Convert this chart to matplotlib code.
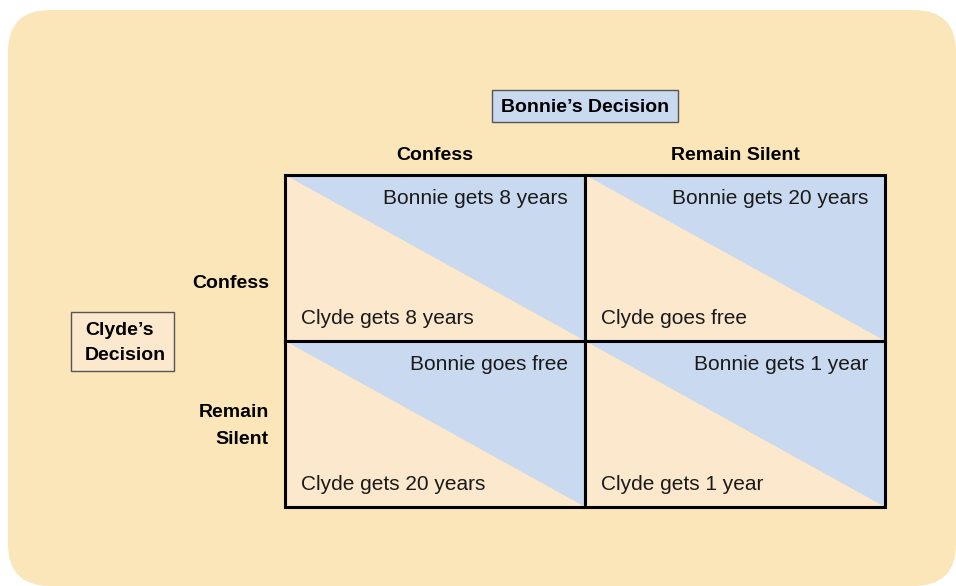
import matplotlib.pyplot as plt
from matplotlib.patches import Polygon, Rectangle, FancyBboxPatch

# payoff matrix text
col_labels = ["Confess", "Remain Silent"]
row_labels = ["Confess", "Remain\nSilent"]
bonnie_outcomes = [["Bonnie gets 8 years", "Bonnie gets 20 years"],
                   ["Bonnie goes free", "Bonnie gets 1 year"]]
clyde_outcomes = [["Clyde gets 8 years", "Clyde goes free"],
                  ["Clyde gets 20 years", "Clyde gets 1 year"]]
col_title = "Bonnie\u2019s Decision"
row_title = "Clyde\u2019s\nDecision"

bg = "#fae6b9"
blue = "#c9d9f0"
peach = "#fce8cc"
font = "Liberation Sans"

fig = plt.figure(figsize=(9.56, 5.86), dpi=100)
ax = fig.add_axes([0, 0, 1, 1])
ax.set_xlim(0, 956)
ax.set_ylim(586, 0)
ax.axis("off")

# rounded background
ax.add_patch(FancyBboxPatch((8 + 42, 10 + 42), 948 - 84, 576 - 84,
                            boxstyle="round,pad=42", fc=bg, ec="none"))

x0, y0 = 285, 175
cw, ch = 300, 166

for i in range(2):
    for j in range(2):
        left = x0 + j * cw
        top = y0 + i * ch
        right, bottom = left + cw, top + ch
        ax.add_patch(Polygon([(left, top), (right, top), (right, bottom)],
                             closed=True, fc=blue, ec="none"))
        ax.add_patch(Polygon([(left, top), (left, bottom), (right, bottom)],
                             closed=True, fc=peach, ec="none"))
        ax.add_patch(Rectangle((left, top), cw, ch, fill=False, ec="black", lw=2.2))
        ax.text(right - 17, top + 24, bonnie_outcomes[i][j], ha="right", va="center",
                fontsize=15, family=font, color="#1a1a1a")
        ax.text(left + 16, bottom - 22, clyde_outcomes[i][j], ha="left", va="center",
                fontsize=15, family=font, color="#1a1a1a")

for j, lab in enumerate(col_labels):
    ax.text(x0 + j * cw + cw / 2, 155, lab, ha="center", va="center",
            fontsize=14, fontweight="bold", family=font)

for i, lab in enumerate(row_labels):
    ax.text(269, y0 + i * ch + (85 if "\n" in lab else 108), lab, ha="right",
            va="center", fontsize=14, fontweight="bold", family=font, linespacing=1.7)

# title boxes
ax.add_patch(Rectangle((492, 90), 186, 32, fc=blue, ec="#555555", lw=1))
ax.text(585, 108, col_title, ha="center", va="center", fontsize=14,
        fontweight="bold", family=font)

ax.add_patch(Rectangle((71, 312), 103, 59, fc=peach, ec="#555555", lw=1))
ax.text(85, 343, row_title, ha="left", va="center", fontsize=14,
        fontweight="bold", family=font, linespacing=1.65)

fig.savefig("out.png", dpi=100)
